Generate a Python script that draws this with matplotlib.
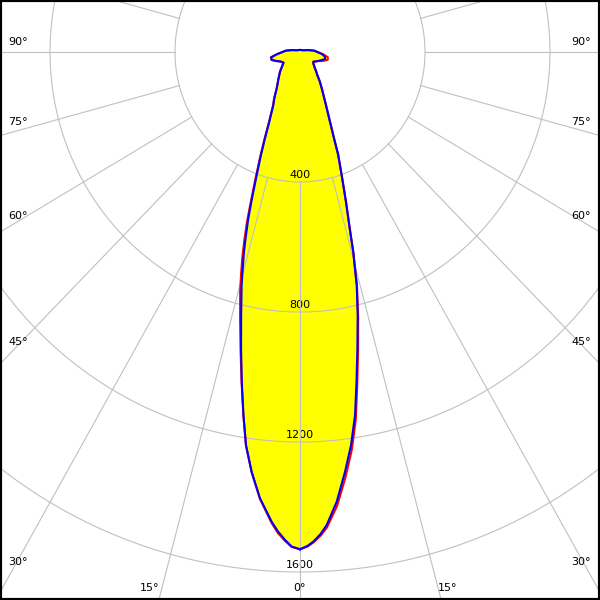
import numpy as np
import matplotlib
matplotlib.use("Agg")
import matplotlib.pyplot as plt

# ---------------- data ----------------
# right half of the diagram (C0 / C90), gamma angles in degrees and intensities in cd
angles_right = [0, 0.9, 1.62, 2.53, 3.36, 4.85, 6.36, 7.7, 8.96, 10.1, 11.4, 12.85, 14.2, 14.8, 15.5,
                16.07, 16.8, 17.7, 18.7, 19.4, 21.1, 22.3, 24.1, 27, 31.9, 35, 38, 40, 45, 50,
                55, 60, 65, 70, 75, 80, 85, 90, 95, 100, 105, 110, 120, 135, 150, 165, 180]
blue_right = [1530, 1520, 1507, 1485, 1458, 1389, 1300, 1220, 1131, 1031, 929, 830, 740, 688, 638,
              586, 535, 484, 432, 401, 340, 287, 235, 183, 132, 110, 90, 82, 66, 56,
              52, 58, 65, 73, 83, 81, 70, 55, 46, 32, 22, 16, 11, 8, 7, 6.5, 6.5]
red_right = [1530, 1522, 1510, 1490, 1466, 1402, 1316, 1236, 1146, 1044, 940, 837, 744, 690, 638,
             586, 535, 484, 432, 401, 340, 287, 235, 183, 132, 110, 90, 82, 66, 56,
             52, 58, 66, 80, 92, 90, 74, 56, 46, 32, 22, 16, 11, 8, 7, 6.5, 6.5]

# left half of the diagram (C180 / C270)
angles_left = [0, 1, 1.83, 2.73, 3.59, 5.33, 6.83, 8.13, 9.2, 10.4, 11.7, 13.1, 14.6, 15.4, 16.26,
               17.06, 17.9, 18.6, 19.4, 20.1, 21.5, 22.9, 24.6, 27.6, 30, 33.7, 40, 46.6, 50, 55,
               58, 65, 70, 75, 80, 85, 90, 95, 100, 105, 110, 120, 135, 150, 165, 180]
blue_left = [1530, 1522, 1502, 1477, 1448, 1379, 1301, 1222, 1132, 1032, 930, 831, 741, 690, 640,
             589, 538, 490, 440, 403, 341, 288, 236, 184, 164, 134, 107, 88, 78, 67,
             62, 69, 81, 94, 94, 73, 56, 46, 32, 22, 16, 11, 8, 7, 6.5, 6.5]
red_left = [1530, 1523, 1505, 1482, 1452, 1381, 1302, 1223, 1133, 1035, 938, 846, 760, 710, 660,
            608, 555, 505, 453, 414, 349, 294, 240, 187, 166, 135, 107, 88, 78, 67,
            62, 69, 81, 94, 94, 73, 56, 46, 32, 22, 16, 11, 8, 7, 6.5, 6.5]

circle_values = [400, 800, 1200, 1600, 2000]
circle_labels = ["400", "800", "1200", "1600"]
radial_angles = list(range(-180, 180, 15))

side_angle_labels = ["90°", "75°", "60°", "45°", "30°"]
bottom_angle_labels = ["15°", "0°", "15°"]

# ---------------- layout ----------------
W = H = 600
CX, CY = 300.0, 52.0          # pole position in pixels
SX, SY = 0.3125, 0.325        # pixels per cd (horizontal / vertical)
side_y = [42, 122, 216, 342, 562]
left_x, right_x = 18, 581
bottom_pos = [(150, 588), (300, 588), (448, 588)]

gridc = "#c0c0c0"

fig = plt.figure(figsize=(6, 6), dpi=100)
ax = fig.add_axes([0, 0, 1, 1])
ax.set_xlim(-CX / SX, (W - CX) / SX)
ax.set_ylim(-(H - CY) / SY, CY / SY)
ax.set_aspect("auto")
ax.set_xticks([])
ax.set_yticks([])
for s in ax.spines.values():
    s.set_color("black")
    s.set_linewidth(3)


def outline(ang_r, right, ang_l, left):
    tr = np.radians(ang_r)
    tl = np.radians(ang_l)
    rr = np.asarray(right, float)
    rl = np.asarray(left, float)
    x = np.concatenate([rr * np.sin(tr), -(rl * np.sin(tl))[::-1]])
    y = np.concatenate([-rr * np.cos(tr), -(rl * np.cos(tl))[::-1]])
    return np.append(x, x[0]), np.append(y, y[0])


bx, by = outline(angles_right, blue_right, angles_left, blue_left)
rx, ry = outline(angles_right, red_right, angles_left, red_left)

ax.fill(rx, ry, color="#ffff00", lw=0, zorder=1)
ax.fill(bx, by, color="#ffff00", lw=0, zorder=1)

# grid
phi = np.linspace(0, 2 * np.pi, 721)
for r in circle_values:
    ax.plot(r * np.sin(phi), r * np.cos(phi), color=gridc, lw=0.8, zorder=2.5)
r0 = circle_values[0]
for a in radial_angles:
    t = np.radians(a)
    ax.plot([r0 * np.sin(t), 4000 * np.sin(t)], [-r0 * np.cos(t), -4000 * np.cos(t)],
            color=gridc, lw=0.8, zorder=2.5)

# curves
ax.plot(rx, ry, color="#ff0000", lw=1.5, zorder=3, solid_joinstyle="round")
ax.plot(bx, by, color="#0000ff", lw=1.5, zorder=4, solid_joinstyle="round")

# value labels
for r, lab in zip(circle_values, circle_labels):
    ax.annotate(lab, xy=(0, -r), xytext=(0, 5.2), textcoords="offset points",
                ha="center", va="center", fontsize=8, color="black", zorder=2)

# angle labels
for lab, y in zip(side_angle_labels, side_y):
    fig.text(left_x / W, 1 - y / H, lab, ha="center", va="center", fontsize=8)
    fig.text(right_x / W, 1 - y / H, lab, ha="center", va="center", fontsize=8)
for lab, (x, y) in zip(bottom_angle_labels, bottom_pos):
    fig.text(x / W, 1 - y / H, lab, ha="center", va="center", fontsize=8)

fig.savefig("out.png", dpi=100)
